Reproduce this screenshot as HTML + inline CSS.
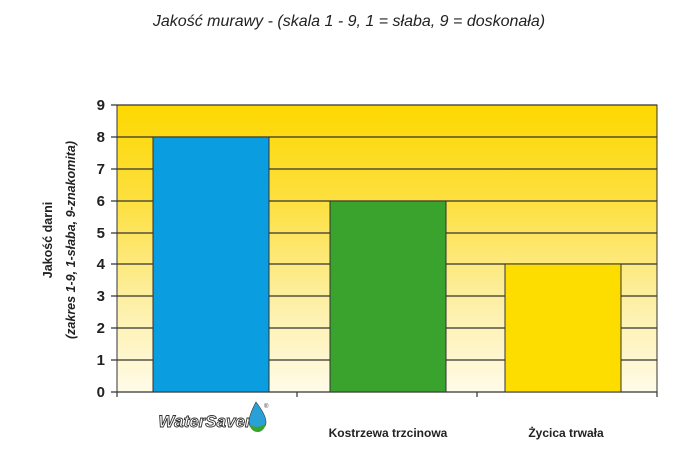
<!DOCTYPE html>
<html><head><meta charset="utf-8"><style>
body{margin:0;background:#fff;}
svg{display:block}
</style></head><body>
<svg width="696" height="468" viewBox="0 0 696 468" xmlns="http://www.w3.org/2000/svg">
<defs>
<linearGradient id="bg" x1="0" y1="0" x2="0" y2="1">
<stop offset="0" stop-color="#fdd800"/>
<stop offset="0.35" stop-color="#fde043"/>
<stop offset="0.7" stop-color="#fdf0a8"/>
<stop offset="1" stop-color="#fffbe8"/>
</linearGradient>
</defs>
<text x="349" y="26" text-anchor="middle" font-family="Liberation Sans, sans-serif" font-style="italic" font-size="16" fill="#222">Jakość murawy - (skala 1 - 9, 1 = słaba, 9 = doskonała)</text>
<rect x="117" y="105" width="540" height="287" fill="url(#bg)" stroke="#333" stroke-width="1"/>
<g stroke="#333" stroke-width="1.2">
<line x1="111" y1="105" x2="657" y2="105"/>
<line x1="111" y1="137" x2="657" y2="137"/>
<line x1="111" y1="169" x2="657" y2="169"/>
<line x1="111" y1="201" x2="657" y2="201"/>
<line x1="111" y1="233" x2="657" y2="233"/>
<line x1="111" y1="264" x2="657" y2="264"/>
<line x1="111" y1="296" x2="657" y2="296"/>
<line x1="111" y1="328" x2="657" y2="328"/>
<line x1="111" y1="360" x2="657" y2="360"/>
<line x1="111" y1="392" x2="657" y2="392"/>
<line x1="117" y1="392" x2="117" y2="397"/>
<line x1="297" y1="392" x2="297" y2="397"/>
<line x1="477" y1="392" x2="477" y2="397"/>
<line x1="657" y1="392" x2="657" y2="397"/>
</g>
<rect x="153" y="137" width="116" height="255" fill="#0a9ee0" stroke="#333" stroke-width="1"/>
<rect x="330" y="201" width="116" height="191" fill="#3aa32e" stroke="#333" stroke-width="1"/>
<rect x="505" y="264" width="116" height="128" fill="#fddc00" stroke="#333" stroke-width="1"/>
<g font-family="Liberation Sans, sans-serif" font-weight="bold" font-size="15" fill="#222" text-anchor="end">
<text x="105" y="110">9</text><text x="105" y="142">8</text><text x="105" y="174">7</text>
<text x="105" y="206">6</text><text x="105" y="238">5</text><text x="105" y="269">4</text>
<text x="105" y="301">3</text><text x="105" y="333">2</text><text x="105" y="365">1</text>
<text x="105" y="397">0</text>
</g>
<g font-family="Liberation Sans, sans-serif" font-weight="bold" font-size="12.5" fill="#222" text-anchor="middle">
<text transform="translate(52,240) rotate(-90)">Jakość darni</text>
<text transform="translate(75,240) rotate(-90)" font-style="italic">(zakres 1-9, 1-słaba,  9-znakomita)</text>
<text x="388" y="437" font-size="12">Kostrzewa trzcinowa</text>
<text x="566" y="437" font-size="12">Życica trwała</text>
</g>
<text x="205" y="427" text-anchor="middle" font-family="Liberation Sans, sans-serif" font-weight="bold" font-style="italic" font-size="17" fill="#fff" stroke="#333" stroke-width="0.9">WaterSaver</text>
<path d="M256 402 Q249 415 249 422 A8.5 8.5 0 0 0 266 422 Q266 415 256 402Z" fill="#2aa0d8" stroke="#333" stroke-width="0.6"/>
<path d="M250 425 A7.5 7.5 0 0 0 265 424 Q258 429 250 425Z" fill="#3aa32e"/>
<text x="264" y="408" font-family="Liberation Sans, sans-serif" font-size="6" fill="#333">®</text>
</svg>
</body></html>
